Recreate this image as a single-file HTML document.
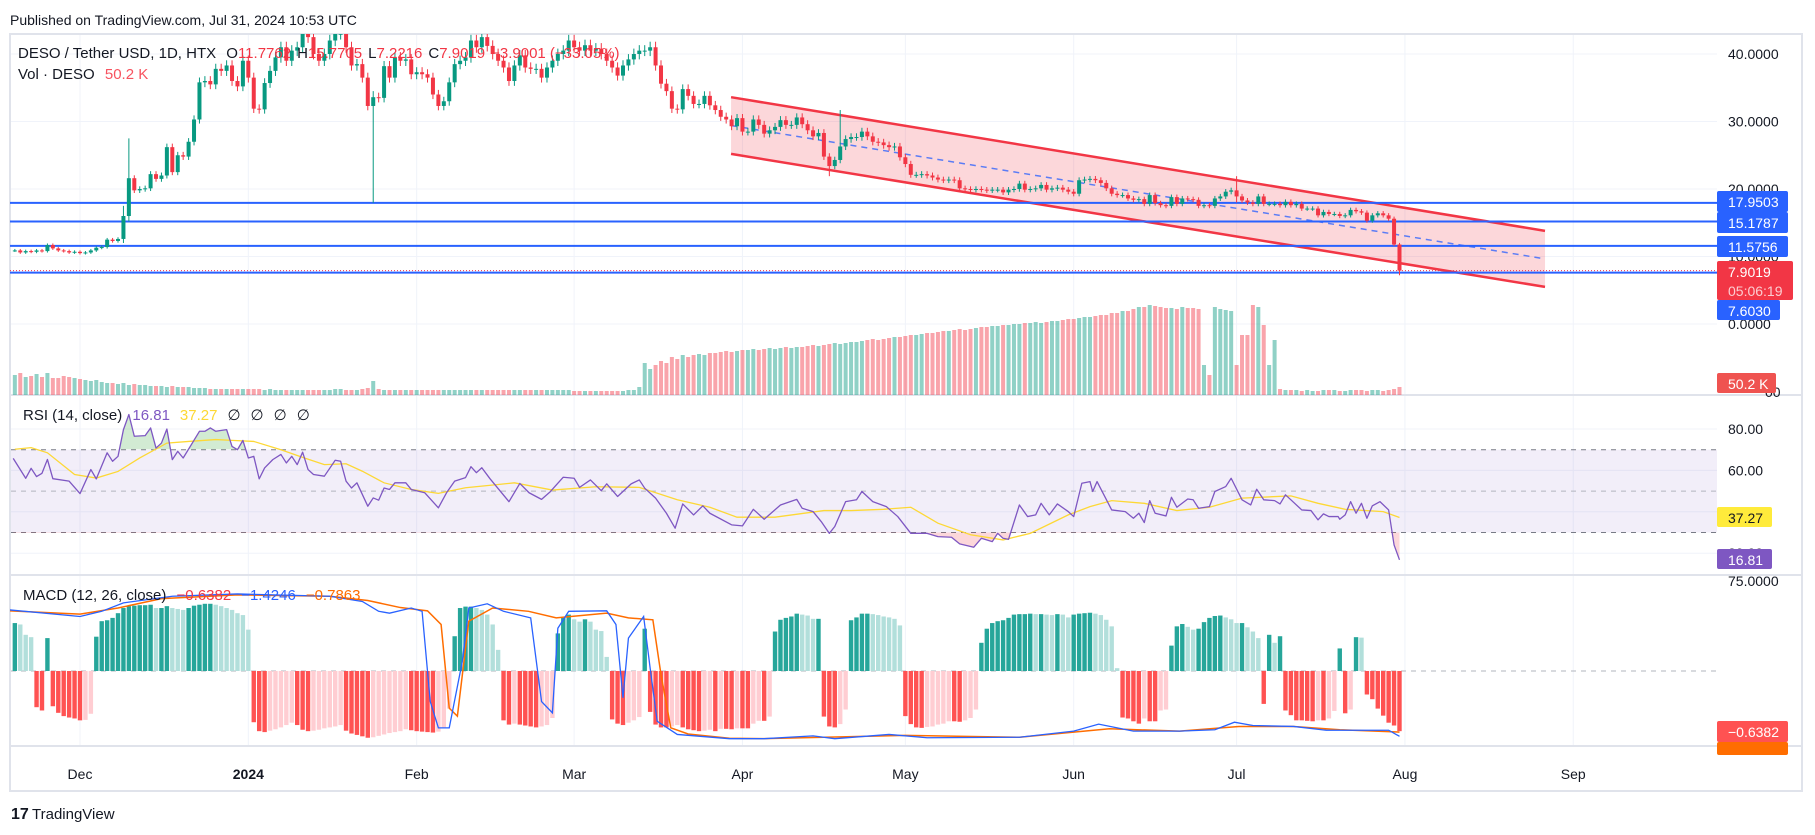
<!DOCTYPE html>
<html><head><meta charset="utf-8">
<style>
html,body{margin:0;padding:0;background:#fff;}
svg{display:block;font-family:"Liberation Sans",sans-serif;}
</style></head>
<body>
<svg id="chart" width="1815" height="835" viewBox="0 0 1815 835" xmlns="http://www.w3.org/2000/svg">
<defs>
<clipPath id="mainClip"><rect x="10" y="34" width="1707" height="361"/></clipPath>
<clipPath id="rsiClip"><rect x="10" y="396" width="1707" height="178"/></clipPath>
<clipPath id="macdClip"><rect x="10" y="576" width="1707" height="170"/></clipPath>
<clipPath id="obClip"><rect x="10" y="396" width="1707" height="53.3"/></clipPath>
<clipPath id="osClip"><rect x="10" y="532" width="1707" height="42"/></clipPath>
</defs>
<text x="10" y="25" font-size="14" fill="#131722">Published on TradingView.com, Jul 31, 2024 10:53 UTC</text>
<rect x="10" y="34" width="1792" height="757" fill="#fff" stroke="#e0e3eb" stroke-width="2"/>
<g id="grid"></g>
<g id="panes"></g>
<g id="main" clip-path="url(#mainClip)"></g>
<g id="rsi"></g>
<g id="macd" clip-path="url(#macdClip)"></g>
<g id="axes"></g>
<g id="legend">
  <text x="18" y="58" font-size="15" fill="#131722">DESO / Tether USD, 1D, HTX <tspan fill="#131722" dx="6">O</tspan><tspan fill="#f23645">11.7762</tspan><tspan fill="#131722" dx="6">H</tspan><tspan fill="#f23645">15.7705</tspan><tspan fill="#131722" dx="6">L</tspan><tspan fill="#f23645">7.2216</tspan><tspan fill="#131722" dx="6">C</tspan><tspan fill="#f23645">7.9019</tspan><tspan fill="#f23645" dx="6">−3.9001 (−33.05%)</tspan></text>
  <text x="18" y="79" font-size="15" fill="#131722">Vol · DESO <tspan fill="#f7525f" dx="6">50.2 K</tspan></text>
  <text x="23" y="420" font-size="15" fill="#131722">RSI (14, close) <tspan fill="#7e57c2" dx="6">16.81</tspan><tspan fill="#fdd835" dx="10">37.27</tspan><tspan dx="10">∅</tspan><tspan dx="10">∅</tspan><tspan dx="10">∅</tspan><tspan dx="10">∅</tspan></text>
  <text x="23" y="600" font-size="15" fill="#131722">MACD (12, 26, close) <tspan fill="#f23645" dx="6">−0.6382</tspan><tspan fill="#2962ff" dx="10">−1.4246</tspan><tspan fill="#ff6d00" dx="10">−0.7863</tspan></text>
</g>
<g>
  <text x="11" y="819" font-size="16" font-weight="bold" fill="#131722">17</text>
  <text x="32" y="819" font-size="15" fill="#131722">TradingView</text>
</g>
</svg>
<script>
// ---------- data ----------
const startDay = -12; // Nov 19, 2023 relative to Dec 1
const closes = [10.9,10.6,10.8,10.7,10.9,10.8,11.7,11.2,10.9,10.8,10.6,10.7,10.5,
10.6,10.9,11.3,11.4,12.5,12.3,12.6,
16.0,21.6,19.8,20.0,20.1,22.2,21.5,22.0,26.2,22.5,25.0,24.8,27.0,
30.3,35.8,36.0,35.5,37.8,37.5,38.3,36,35.2,39,36.5,31.9,31.8,35.7,37.5,39.5,41,39,40.5,41,
43,42.5,40,39,40,42,43,43,41,38.3,38.5,36.5,32.3,33.6,33.5,38.2,36.5,39.5,39.0,39.2,
37,37.3,37,36.5,34,32.3,33,35.8,38.5,39,39.5,42,41,42.5,41.2,40,39,38,36,38.3,
39.8,38,37.8,37.8,36.5,38,39,40,40.5,42,41,40.5,41.3,40.5,40.8,40,39,38,36.8,38.3,
39.2,40,40.5,40.5,41,38.3,35.6,34.5,31.9,31.8,34.8,33.8,32.6,32.6,33.8,
32.4,31.7,30.7,30.3,29.3,30.5,28.5,28.5,30.3,29.5,
28.2,28.7,29.2,30.2,29.5,29.5,30.6,29.6,28.7,27.8,
28.3,24.8,23.4,24.3,26.3,27.4,27.7,27.7,28.5,27.8,
27.0,26.9,26.5,26.2,26.3,24.7,23.7,22.1,22.1,22.2,
22.0,21.7,21.4,21.3,21.4,21.3,20.1,20.0,19.9,20.0,
19.9,19.8,19.9,19.9,19.5,19.9,20.0,20.8,19.9,20.0,
20.1,20.6,19.9,20.1,20.2,19.9,19.6,19.3,21.3,21.4,
21.5,21.3,20.9,20.1,19.3,19.1,19.1,18.6,18.4,18.5,
17.8,19.1,17.9,17.6,17.5,18.8,17.8,18.6,18.5,18.4,
17.5,17.6,17.5,18.6,18.9,19.6,19.8,18.9,18.3,18.0,
17.8,18.9,17.8,17.8,17.8,17.6,18.1,17.6,17.8,17.1,
17.1,17.1,16.1,16.6,16.3,16.3,16.0,16.1,16.9,16.7,
16.5,15.3,16.1,16.4,16.1,15.6,11.78,7.90];
// notable wicks: [day, high, low]
const wickDays = [54, 138, 140, 213, 243, 9, 8];
const wickHighs = [34.5, 24.8, 31.7, 21.9, 11.9, 27.5, 17.5];
const wickLows = [17.95, 21.9, 26.0, 18.0, 7.22, 15.2, 12.0];
const volumes = [20,22,18,19,21,18,22,17,17,19,18,17,16,
15,14,15,13,12,12,11,12,10,11,10,10,9,9,9,8,9,8,8,8,
7,7,7,6,6,6,6,6,6,6,6,6,6,5,6,5,5,5,5,5,5,5,5,5,5,5,6,6,5,5,5,6,7,
14,
6,5,5,5,5,5,5,5,5,5,5,5,5,5,5,5,5,5,5,5,5,5,5,5,5,5,5,5,5,5,5,5,5,5,5,5,4,4,4,4,4,4,4,4,4,4,5,5,
8,32,
26,30,34,32,38,36,40,38,40,41,40,
42,42,43,44,43,44,45,45,46,45,46,47,46,47,48,47,48,48,49,50,49,50,51,52,51,
52,53,53,54,55,56,55,56,57,58,58,59,60,60,61,62,62,63,64,64,65,66,65,66,67,68,68,69,69,70,
70,71,71,72,72,73,72,73,74,74,75,76,76,77,78,78,79,80,80,82,82,84,84,86,88,88,90,89,88,87,
87,86,88,87,87,86,30,20,88,86,85,84,30,60,60,90,88,70,30,55,
6,5,5,5,4,5,4,4,5,5,5,4,4,5,5,5,4,5,5,4,5,6,8];
const levels = [17.9503, 15.1787, 11.5756, 7.6030];
const channelDays = [119.9, 269.8];
const channelUpper = [33.6, 13.8];
const channelLower = [25.2, 5.5];
const priceTicks = [40, 30, 20, 10, 0];
const monthLabels = ["Dec","2024","Feb","Mar","Apr","May","Jun","Jul","Aug","Sep"];
const monthDays = [0,31,62,91,122,152,183,213,244,275];
// RSI keyframes
const rsiDays = [-12.3,-10,-9,-8,-7,-6,-5,-2,0,2,3,5,6,7,8,9,10,12,13,14,15,16,17,18,19,22,23,24,25,27,28,29,30,31,32,33,34,35.5,37,38,39,40,41,42,43,45,47,48,49,50,51,53,54,55,56,57,58,60,61,63.5,66,67.5,69,71,72,73,74,75.5,79,81,82.7,85,86.6,89,91,92,94,96,97,99,101.5,103,104,106,108,109.6,111,113,114.7,116,120,122,124,126,129,132,133,135,136.5,138,139,141,143,144,146,148.5,150.6,153,156,158,160.5,162,164.6,166,168,169,170,171,173,174.5,176,177,178.5,180,182,183,184.5,186,186.5,187.3,190,192.5,194,195,196,197,198,200,201,202,204,205,206,208,209,211,212,214,215.6,216.7,218,220,221,222,223,225,226.7,228,229,230,231.7,232,233,234,235,236,237,238,239.4,241,242,243];
const rsiValues = [65.8,56.2,61,57,58.6,65.3,56,54.8,48.8,60.4,55.9,68.5,64.4,66.8,79.7,87,76.5,76.8,80.5,70.8,73.2,80,65.2,69.2,66,78.9,78.9,80.5,78.9,79.7,71.6,70,74.5,66,66.8,55.9,61.2,65.2,67.7,63.6,66.8,62.8,68.8,60.4,58,57.2,64.9,64.4,54.8,51.5,54,42.7,46.7,45.6,51.5,50.8,54,54,50.8,49.2,41.9,49.2,54.8,56.5,61.8,58.9,61.3,56,44.9,53.7,49.2,46,49.7,56.7,56.2,51.8,55.4,50.2,53.5,47.4,53.5,55.4,51.4,46.6,39.3,32.1,43.8,38.5,42.9,39.3,33.7,33.2,41.2,36.4,43.3,46,41.7,40.1,35.3,29.6,32.9,44.9,45.8,49.8,44.9,42.5,37.7,29.6,29.6,28,27.7,24.5,22.9,27.2,25.6,29.6,27.2,26.7,43.3,37.7,38.5,44.1,38.5,43.8,40.1,37.7,53.8,54.6,49.8,54.6,40.9,40.1,36.9,39.3,34.8,45.4,39.3,38,47,42.2,46.2,45.8,41.7,42.5,49.8,52.2,56.2,45.8,43.3,50.9,45.8,45.4,43.8,48.2,45.8,40.9,40.6,36.1,39,37.7,37.7,36.4,38.5,44.9,39.3,44.1,36.9,42.9,44.9,40.9,24,16.81];
const rsiMaDays = [-12,-9,-6,-1,3,7,11,16,20,25,28,32,37,41,45,49,52,56,61,66,71,77,80,87,95,103,110,116,121,128,137,142,148,153,158,164,170,175,182,186,190,196,202,208,214,223,228,233,240,243];
const rsiMaValues = [70.2,71,68.5,58,56.3,59.5,66,73.2,74,74.9,74.5,74,70,66.3,62.8,63.2,59.6,54,50.8,48.9,51.6,53.2,54,50.5,52.1,51.8,45.8,42.2,37.4,37.4,40.6,40.6,41.2,42.2,34.5,28.9,26.4,29.6,38.5,42.5,45.4,44.1,40.6,42.2,46.6,47.7,44.1,41.2,40.1,37.27];
const rsiTicks = [80, 60, 40, 20];
// MACD
const macdDays = [-13,0,4,8,17,29,46,52,55,57,61,63,64.5,66,68,70.4,71.6,75,78,83,85,87,88,90,97,98.7,100,101,103.8,105,106.3,110,119.6,126,135,139,149,156,173,183,187.6,194,202.5,209,212.6,216,223.5,229.5,241,243];
const macdValues = [1.3,1.16,1.27,1.45,1.59,1.64,1.59,1.48,1.27,1.23,1.34,1.27,-0.65,-1.21,-1.21,0.2,1.34,1.43,1.27,1.13,-0.65,-0.89,0.91,1.27,1.28,0.99,-0.57,0.7,1.16,0.06,-1.07,-1.35,-1.44,-1.44,-1.38,-1.44,-1.35,-1.42,-1.41,-1.28,-1.13,-1.28,-1.28,-1.25,-1.09,-1.16,-1.18,-1.26,-1.26,-1.39];
const signalDays = [-13,0,7,15,29,46,53,59,64,66.5,68,69.5,71.6,76,82.6,87.7,97,101,105.5,107,108.8,112,119.6,126,152,173,189.6,202.5,213.4,223.5,232,243];
const signalValues = [1.28,1.21,1.34,1.54,1.62,1.59,1.5,1.35,1.28,0.99,-0.79,-0.96,1.06,1.34,1.27,1.13,1.23,1.13,1.09,-0.08,-1.21,-1.34,-1.43,-1.44,-1.37,-1.41,-1.23,-1.28,-1.18,-1.18,-1.25,-1.3];
const histValues = [1.02,0.99,0.77,0.72,-0.77,-0.84,0.70,-0.75,-0.89,-0.96,-0.99,-1.01,-1.05,
-1.04,-0.91,0.73,1.06,1.08,1.13,1.23,1.34,1.38,1.39,1.40,1.40,1.41,1.34,1.34,1.38,1.34,1.32,1.30,1.34,1.39,1.41,1.43,1.43,1.41,1.38,1.34,1.30,1.23,1.19,0.88,
-1.09,-1.28,-1.30,-1.27,-1.24,-1.2,-1.15,-1.1,-1.15,-1.25,-1.28,-1.27,-1.25,-1.22,-1.2,-1.18,-1.15,-1.27,-1.33,-1.36,-1.39,-1.42,-1.41,-1.38,-1.35,-1.32,-1.30,-1.28,-1.24,-1.26,-1.28,-1.29,-1.3,-1.31,-1.29,-1.2,-0.8,
0.74,1.34,1.37,1.37,1.34,1.30,1.20,0.99,
0.45,-1.05,
-1.14,-1.12,-1.14,-1.16,-1.18,-1.20,-1.18,-1.15,-1.0,
0.8,1.13,1.20,1.1,1.05,1.10,1.05,0.88,0.85,
0.3,
-1.03,-1.12,-1.15,-1.1,-1.05,-0.98,
0.9,
-0.87,-1.14,-1.2,-1.2,-1.18,-1.15,-1.2,-1.24,-1.26,-1.28,-1.27,-1.25,-1.28,-1.23,-1.23,-1.24,-1.22,-1.22,-1.22,-1.12,-1.06,-1.06,-0.97,
0.84,1.09,1.13,1.16,1.22,1.20,1.18,1.11,1.11,
-0.97,-1.18,-1.2,-1.13,-0.82,
1.08,1.14,1.22,1.22,1.21,1.19,1.16,1.14,1.11,0.97,
-0.96,-1.13,-1.2,-1.21,-1.19,-1.18,-1.14,-1.12,-1.07,-1.07,-1.08,-1.05,-1.0,-0.82,
0.6,0.9,1.02,1.06,1.08,1.13,1.20,1.21,1.21,1.22,1.21,1.21,1.20,1.19,1.21,1.20,1.14,1.20,1.22,1.23,1.24,1.22,1.19,1.09,0.95,0.06,
-0.99,-1.01,-1.07,-1.12,-1.01,-1.07,-1.07,-0.84,-0.82,
0.54,0.95,1.0,0.94,0.88,0.90,1.04,1.13,1.17,1.18,1.14,1.10,1.02,1.02,0.93,0.84,0.70,
-0.7,
0.77,0.6,0.74,
-0.84,-0.94,-1.05,-1.05,-1.06,-1.07,-1.05,-1.05,-1.01,-0.85,
0.48,
-0.9,-0.82,
0.72,0.71,
-0.5,-0.6,-0.8,-0.95,-1.1,-1.16,-1.28];

// ---------- scales ----------
const NS = "http://www.w3.org/2000/svg";
const xOf = d => 80 + 5.43 * d;
const yP = p => 324 - 6.75 * p;
const yV = v => 395 - v;
const yR = r => 429 + (80 - r) * 2.07;
const yM = v => 671 - v * 47;
function mk(tag, attrs, parent) {
  const el = document.createElementNS(NS, tag);
  for (const k in attrs) el.setAttribute(k, attrs[k]);
  parent.appendChild(el);
  return el;
}
const gGrid = document.getElementById('grid');
const gPanes = document.getElementById('panes');
const gMain = document.getElementById('main');
const gRsi = document.getElementById('rsi');
const gMacd = document.getElementById('macd');
const gAxes = document.getElementById('axes');

// grid
monthDays.forEach((d) => {
  const l = mk('line', {x1: xOf(d), x2: xOf(d), y1: 35, y2: 746, stroke: '#f0f3fa', 'stroke-width': 1}, gGrid);
  
  
});
priceTicks.forEach(p => {
  const l = mk('line', {x1: 11, x2: 1717, y1: yP(p), y2: yP(p), stroke: '#f0f3fa'}, gGrid);
  
  
});
rsiTicks.forEach(r => {
  const l = mk('line', {x1: 11, x2: 1717, y1: yR(r), y2: yR(r), stroke: '#f0f3fa'}, gGrid);
  
  
});
[[395],[575],[746]].forEach(([y]) => {
  const l = mk('line', {x1: 10, x2: 1802, y1: y, y2: y, stroke: '#e0e3eb', 'stroke-width': 2}, gPanes);
  
  
});

// volume
const opens = closes.map((c, i) => i === 0 ? c : closes[i - 1]);
volumes.forEach((v, i) => {
  const d = startDay + i;
  const up = closes[i] >= opens[i];
  const r = mk('rect', {x: xOf(d) - 2, y: yV(v), width: 4, height: v, fill: up ? 'rgba(8,153,129,0.45)' : 'rgba(242,54,69,0.45)'}, gMain);
  
  
});

// channel
const cx1 = xOf(channelDays[0]), cx2 = xOf(channelDays[1]);
const ch = mk('polygon', {points: `${cx1},${yP(channelUpper[0])} ${cx2},${yP(channelUpper[1])} ${cx2},${yP(channelLower[1])} ${cx1},${yP(channelLower[0])}`, fill: 'rgba(242,54,69,0.2)'}, gMain);


const cu = mk('line', {x1: cx1, y1: yP(channelUpper[0]), x2: cx2, y2: yP(channelUpper[1]), stroke: '#f23645', 'stroke-width': 2.5}, gMain);


const cl = mk('line', {x1: cx1, y1: yP(channelLower[0]), x2: cx2, y2: yP(channelLower[1]), stroke: '#f23645', 'stroke-width': 2.5}, gMain);


const cm = mk('line', {x1: cx1, y1: (yP(channelUpper[0]) + yP(channelLower[0])) / 2, x2: cx2, y2: (yP(channelUpper[1]) + yP(channelLower[1])) / 2, stroke: '#5b7cf5', 'stroke-width': 1.5, 'stroke-dasharray': '6 5'}, gMain);



// horizontal levels
levels.forEach(p => {
  const l = mk('line', {x1: 10, x2: 1717, y1: yP(p), y2: yP(p), stroke: '#2962ff', 'stroke-width': 2}, gMain);
  
  
});
const cpl = mk('line', {x1: 10, x2: 1717, y1: yP(closes[closes.length - 1]), y2: yP(closes[closes.length - 1]), stroke: '#f23645', 'stroke-width': 1, 'stroke-dasharray': '1 2'}, gMain);



// candles
closes.forEach((c, i) => {
  const d = startDay + i;
  const o = opens[i];
  const up = c >= o;
  let hi = Math.max(o, c) * 1.02, lo = Math.min(o, c) * 0.98;
  const w = wickDays.indexOf(d);
  if (w >= 0) { hi = Math.max(hi, wickHighs[w]); lo = Math.min(lo, wickLows[w]); }
  const col = up ? '#089981' : '#f23645';
  const x = xOf(d);
  const wk = mk('line', {x1: x, x2: x, y1: yP(hi), y2: yP(lo), stroke: col, 'stroke-width': 1}, gMain);
  
  
  const top = yP(Math.max(o, c)), bot = yP(Math.min(o, c));
  const b = mk('rect', {x: x - 2, y: top, width: 4, height: Math.max(1, bot - top), fill: col}, gMain);
  
  
});

// RSI
const band = mk('rect', {x: 11, y: yR(70), width: 1706, height: yR(30) - yR(70), fill: 'rgba(126,87,194,0.1)'}, gRsi);


[[70, '#787b86', '5 5'], [50, '#b2b5be', '5 5'], [30, '#787b86', '5 5']].forEach(([r, c, da]) => {
  const l = mk('line', {x1: 11, x2: 1717, y1: yR(r), y2: yR(r), stroke: c, 'stroke-dasharray': da}, gRsi);
  
  
});
const rsiPts = rsiDays.map((d, i) => `${xOf(d)},${yR(rsiValues[i])}`);
const ob = mk('polygon', {points: `${xOf(rsiDays[0])},${yR(70)} ${rsiPts.join(' ')} ${xOf(rsiDays[rsiDays.length-1])},${yR(70)}`, fill: 'rgba(76,175,80,0.25)', 'clip-path': 'url(#obClip)'}, gRsi);


const os = mk('polygon', {points: `${xOf(rsiDays[0])},${yR(30)} ${rsiPts.join(' ')} ${xOf(rsiDays[rsiDays.length-1])},${yR(30)}`, fill: 'rgba(242,54,69,0.2)', 'clip-path': 'url(#osClip)'}, gRsi);


const rma = mk('polyline', {points: rsiMaDays.map((d, i) => `${xOf(d)},${yR(rsiMaValues[i])}`).join(' '), fill: 'none', stroke: '#fdd835', 'stroke-width': 1.3}, gRsi);


const rl = mk('polyline', {points: rsiPts.join(' '), fill: 'none', stroke: '#7e57c2', 'stroke-width': 1.3, 'stroke-linejoin': 'round'}, gRsi);



// MACD
const zl = mk('line', {x1: 11, x2: 1717, y1: yM(0), y2: yM(0), stroke: '#b2b5be', 'stroke-dasharray': '5 5'}, gMacd);


histValues.forEach((v, i) => {
  const d = startDay + i;
  const prev = i > 0 ? histValues[i - 1] : v;
  let col;
  if (v >= 0) col = v >= prev ? '#26a69a' : '#b2dfdb';
  else col = v <= prev ? '#ff5252' : '#ffcdd2';
  const y0 = yM(0), y1 = yM(v);
  const r = mk('rect', {x: xOf(d) - 2.2, y: Math.min(y0, y1), width: 4.4, height: Math.abs(y1 - y0), fill: col}, gMacd);
  
  
});
const sl = mk('polyline', {points: signalDays.map((d, i) => `${xOf(d)},${yM(signalValues[i])}`).join(' '), fill: 'none', stroke: '#ff6d00', 'stroke-width': 1.5}, gMacd);


const ml = mk('polyline', {points: macdDays.map((d, i) => `${xOf(d)},${yM(macdValues[i])}`).join(' '), fill: 'none', stroke: '#2962ff', 'stroke-width': 1.3}, gMacd);



// axes labels
priceTicks.forEach(p => {
  const t = mk('text', {x: 1728, y: yP(p) + 5, 'font-size': 14, fill: '#131722'}, gAxes);
  t.textContent = p.toFixed(4);
  
  
});
rsiTicks.forEach(r => {
  const t = mk('text', {x: 1728, y: yR(r) + 5, 'font-size': 14, fill: '#131722'}, gAxes);
  t.textContent = r.toFixed(2);
  
  
});
const t75 = mk('text', {x: 1728, y: 586, 'font-size': 14, fill: '#131722'}, gAxes);
t75.textContent = '75.0000';


const t00 = mk('text', {x: 1765, y: 397, 'font-size': 14, fill: '#131722'}, gAxes);
t00.textContent = '00';


monthLabels.forEach((m, i) => {
  const t = mk('text', {x: xOf(monthDays[i]), y: 779, 'font-size': 14, fill: '#131722', 'text-anchor': 'middle', 'font-weight': m === '2024' ? 'bold' : 'normal'}, gAxes);
  t.textContent = m;
  
  
});
function badge(y, h, w, bg, lines, fg, name) {
  const g = mk('g', {}, gAxes);
  
  
  mk('rect', {x: 1717, y: y, width: w, height: h, fill: bg, rx: 2}, g);
  lines.forEach((s, k) => {
    const t = mk('text', {x: 1728, y: y + 16 + k * 19, 'font-size': 14, fill: k === 1 ? 'rgba(255,255,255,0.75)' : fg}, g);
    t.textContent = s;
  });
}
badge(191, 21, 71, '#2962ff', ['17.9503'], '#fff', 'level-label-17-9503');
badge(212, 21, 71, '#2962ff', ['15.1787'], '#fff', 'level-label-15-1787');
badge(236, 21, 71, '#2962ff', ['11.5756'], '#fff', 'level-label-11-5756');
badge(261, 39, 76, '#f23645', ['7.9019', '05:06:19'], '#fff', 'last-price-label');
badge(300, 20, 63, '#2962ff', ['7.6030'], '#fff', 'level-label-7-6030');
badge(373, 20, 59, '#ef5350', ['50.2 K'], '#fff', 'volume-last-label');
badge(507, 20, 55, '#ffeb3b', ['37.27'], '#131722', 'rsi-ma-last-label');
badge(549, 20, 55, '#7e57c2', ['16.81'], '#fff', 'rsi-last-label');
badge(721, 21, 71, '#ff5252', ['−0.6382'], '#fff', 'macd-hist-last-label');
badge(742, 13, 71, '#ff6d00', [''], '#fff', 'macd-signal-last-label');
</script>
</body></html>
